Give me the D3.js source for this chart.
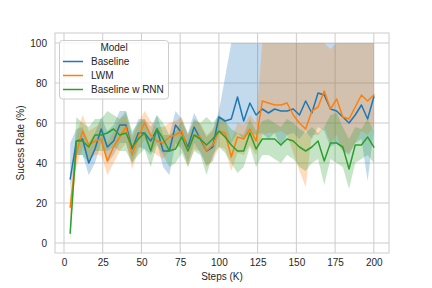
<!DOCTYPE html>
<html lang="en">
<head>
    <meta charset="UTF-8">
    <title>Sucess Rate</title>
    <style>
        body { margin: 0; background: #fff; }
        text { font-family: "Liberation Sans", Arial, sans-serif; }
    </style>
</head>
<body>
<script src="https://cdn.jsdelivr.net/npm/d3@7"></script>
<script>
    let width = 432;
    let height = 288;
    let padding = {top: 33, right: 43, bottom: 35, left: 55};

    let steps = [4, 8, 12, 16, 20, 24, 28, 32, 36, 40,
        44, 48, 52, 56, 60, 64, 68, 72, 76, 80,
        84, 88, 92, 96, 100, 104, 108, 112, 116, 120,
        124, 128, 132, 136, 140, 144, 148, 152, 156, 160,
        164, 168, 172, 176, 180, 184, 188, 192, 196, 200];

    // Baseline
    let baseMean = [32, 51, 52, 40, 47, 57, 48, 51, 59, 59,
        47, 55, 55, 51, 57, 46, 46, 59, 55, 48,
        58, 52, 46, 48, 63, 61, 62, 73, 61, 70,
        64, 67, 65, 67, 66, 66, 67, 64, 71, 65,
        75, 74, 67, 66, 63, 60, 64, 69, 62, 73];
    let baseLo = [27, 44, 44, 34, 40, 50, 40, 44, 50, 50,
        40, 48, 47, 44, 50, 38, 34, 50, 47, 40,
        50, 45, 39, 41, 55, 53, 50, 55, 52, 55,
        54, 55, 52, 55, 48, 54, 55, 52, 56, 52,
        58, 56, 48, 50, 46, 44, 50, 52, 31, 56];
    let baseHi = [50, 57, 58, 50, 55, 63, 56, 59, 66, 66,
        54, 62, 62, 58, 64, 54, 54, 66, 62, 55,
        65, 59, 53, 56, 66, 83, 100, 100, 100, 100,
        100, 100, 100, 100, 100, 100, 100, 100, 100, 100,
        100, 100, 100, 100, 100, 100, 100, 100, 100, 100];

    // LWM
    let lwmMean = [18, 45, 56, 49, 51, 52, 41, 48, 53, 58,
        44, 53, 60, 54, 51, 50, 53, 54, 56, 46,
        54, 53, 46, 49, 56, 55, 43, 53, 52, 57,
        51, 71, 70, 69, 69, 70, 64, 60, 57, 66,
        68, 76, 67, 72, 63, 62, 68, 74, 71, 74];
    let lwmLo = [12, 38, 48, 42, 44, 44, 34, 40, 46, 50,
        37, 46, 52, 46, 44, 42, 46, 47, 49, 38,
        47, 46, 38, 41, 48, 47, 36, 45, 44, 49,
        44, 54, 55, 55, 56, 54, 45, 36, 28, 54,
        54, 58, 50, 54, 46, 45, 50, 56, 54, 58];
    let lwmHi = [24, 54, 64, 56, 58, 60, 50, 56, 62, 64,
        52, 60, 66, 61, 58, 58, 60, 61, 63, 54,
        61, 60, 54, 57, 63, 62, 51, 60, 59, 64,
        60, 100, 100, 100, 100, 100, 100, 100, 100, 100,
        100, 100, 97, 100, 100, 100, 100, 100, 100, 100];

    // Baseline w RNN
    let rnnMean = [5, 51, 51, 48, 54, 54, 55, 57, 54, 55,
        48, 52, 55, 46, 57, 52, 46, 47, 53, 46,
        54, 52, 49, 52, 56, 53, 49, 46, 46, 55,
        47, 52, 52, 52, 49, 52, 51, 48, 46, 48,
        51, 41, 50, 50, 48, 37, 49, 49, 53, 48];
    let rnnLo = [1, 44, 44, 40, 46, 46, 46, 48, 46, 46,
        40, 44, 47, 38, 49, 44, 38, 40, 45, 38,
        46, 44, 34, 44, 48, 45, 40, 35, 38, 48,
        38, 44, 44, 42, 40, 44, 42, 38, 36, 40,
        42, 29, 42, 40, 38, 27, 40, 42, 44, 40];
    let rnnHi = [10, 63, 60, 58, 62, 62, 66, 64, 62, 66,
        56, 60, 62, 54, 64, 60, 54, 56, 61, 54,
        62, 60, 63, 60, 64, 61, 57, 55, 54, 62,
        56, 61, 62, 60, 58, 62, 60, 57, 55, 58,
        55, 58, 64, 65, 58, 52, 58, 57, 62, 56];

    let xTicks = [0, 25, 50, 75, 100, 125, 150, 175, 200];
    let yTicks = [0, 20, 40, 60, 80, 100];

    let series = [
        {name: "Baseline", color: "#1f77b4", mean: baseMean, lo: baseLo, hi: baseHi},
        {name: "LWM", color: "#ff7f0e", mean: lwmMean, lo: lwmLo, hi: lwmHi},
        {name: "Baseline w RNN", color: "#2ca02c", mean: rnnMean, lo: rnnLo, hi: rnnHi}
    ];

    let svg = d3.select("body").append("svg")
        .attr("width", width)
        .attr("height", height);

    let x = d3.scaleLinear().domain([-5.8, 209.8]).range([padding.left, width - padding.right]);
    let y = d3.scaleLinear().domain([-5, 105]).range([height - padding.bottom, padding.top]);

    // grid
    svg.append("g").selectAll("line").data(xTicks).enter().append("line")
        .attr("x1", d => x(d)).attr("x2", d => x(d))
        .attr("y1", padding.top).attr("y2", height - padding.bottom)
        .attr("stroke", "#cccccc").attr("stroke-width", 1);
    svg.append("g").selectAll("line").data(yTicks).enter().append("line")
        .attr("y1", d => y(d)).attr("y2", d => y(d))
        .attr("x1", padding.left).attr("x2", width - padding.right)
        .attr("stroke", "#cccccc").attr("stroke-width", 1);

    // bands
    let area = d3.area()
        .x((d, i) => x(steps[i]))
        .y0(d => y(d[0]))
        .y1(d => y(d[1]));
    series.forEach(s => {
        svg.append("path")
            .datum(s.lo.map((v, i) => [v, s.hi[i]]))
            .attr("d", area)
            .attr("fill", s.color)
            .attr("fill-opacity", 0.27);
    });

    // lines
    let line = d3.line()
        .x((d, i) => x(steps[i]))
        .y(d => y(d));
    series.forEach(s => {
        svg.append("path")
            .datum(s.mean)
            .attr("d", line)
            .attr("fill", "none")
            .attr("stroke", s.color)
            .attr("stroke-width", 1.5)
            .attr("stroke-linejoin", "round")
            .attr("stroke-linecap", "square");
    });

    // spines
    svg.append("rect")
        .attr("x", padding.left).attr("y", padding.top)
        .attr("width", width - padding.left - padding.right)
        .attr("height", height - padding.top - padding.bottom)
        .attr("fill", "none").attr("stroke", "#cccccc").attr("stroke-width", 1);

    // axes
    let xAxis = svg.append("g")
        .attr("transform", "translate(0," + (height - padding.bottom) + ")")
        .call(d3.axisBottom(x).tickValues(xTicks).tickSize(0).tickPadding(6));
    let yAxis = svg.append("g")
        .attr("transform", "translate(" + padding.left + ",0)")
        .call(d3.axisLeft(y).tickValues(yTicks).tickSize(0).tickPadding(8));
    [xAxis, yAxis].forEach(a => {
        a.select(".domain").remove();
        a.selectAll("text")
            .attr("font-family", "Liberation Sans, Arial, sans-serif")
            .attr("font-size", 10)
            .attr("fill", "#262626");
    });

    svg.append("text")
        .attr("x", (padding.left + width - padding.right) / 2)
        .attr("y", 280)
        .attr("text-anchor", "middle")
        .attr("font-size", 10)
        .attr("fill", "#262626")
        .text("Steps (K)");
    svg.append("text")
        .attr("transform", "translate(24," + ((padding.top + height - padding.bottom) / 2) + ") rotate(-90)")
        .attr("text-anchor", "middle")
        .attr("font-size", 10)
        .attr("fill", "#262626")
        .text("Sucess Rate (%)");

    // legend
    let legend = svg.append("g");
    legend.append("rect")
        .attr("x", 59.5).attr("y", 40.5)
        .attr("width", 109).attr("height", 58.5)
        .attr("rx", 3)
        .attr("fill", "#ffffff").attr("fill-opacity", 0.8)
        .attr("stroke", "#cccccc").attr("stroke-width", 1);
    legend.append("text")
        .attr("x", 114).attr("y", 51)
        .attr("text-anchor", "middle")
        .attr("font-size", 10)
        .attr("fill", "#262626")
        .text("Model");
    series.forEach((s, i) => {
        let ly = 61.5 + i * 14;
        legend.append("line")
            .attr("x1", 63).attr("x2", 83)
            .attr("y1", ly).attr("y2", ly)
            .attr("stroke", s.color).attr("stroke-width", 1.5);
        legend.append("text")
            .attr("x", 91).attr("y", ly + 3.5)
            .attr("font-size", 10)
            .attr("fill", "#262626")
            .text(s.name);
    });
</script>
</body>
</html>
